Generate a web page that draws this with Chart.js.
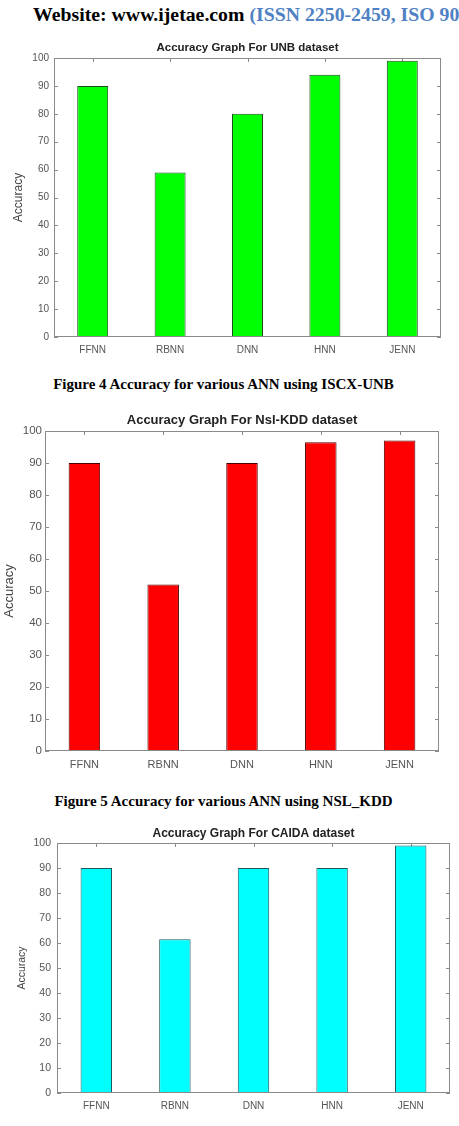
<!DOCTYPE html>
<html>
<head>
<meta charset="utf-8">
<script src="https://cdn.jsdelivr.net/npm/chart.js@4"></script>
<style>
  html, body { margin: 0; padding: 0; background: #fff; }
  body { width: 459px; height: 1126px; position: relative; overflow: hidden; }
  .txt { position: absolute; font-family: "Liberation Serif", "Times New Roman", serif; font-weight: bold; white-space: nowrap; color: #000; }
  canvas { position: absolute; left: 0; }
</style>
</head>
<body>
<div class="txt" id="header" style="left:33px; top:3px; font-size:19.8px;">Website: www.ijetae.com <span style="color:#4f81c4">(ISSN 2250-2459, ISO 9001:2008 Certified Journal</span></div>

<canvas id="unbChart" width="459" height="327" style="top:38px"></canvas>
<div class="txt" style="left:0; width:447px; text-align:center; top:376px; font-size:15px;">Figure 4 Accuracy for various ANN using ISCX-UNB</div>

<canvas id="kddChart" width="459" height="375" style="top:405px"></canvas>
<div class="txt" style="left:0; width:447px; text-align:center; top:793px; font-size:15px;">Figure 5 Accuracy for various ANN using NSL_KDD</div>

<canvas id="caidaChart" width="459" height="306" style="top:820px"></canvas>

<script>
// data
const categories = ["FFNN", "RBNN", "DNN", "HNN", "JENN"];
const unbAccuracy = [90, 59, 80, 94, 99];
const nslKddAccuracy = [90, 52, 90, 96.5, 97];
const caidaAccuracy = [90, 61.5, 90, 90, 99];
const yMin = 0;
const yMax = 100;
const yStep = 10;

// matlab style box: frame, inner ticks, title over the plot area
const boxPlugin = {
  id: "box",
  beforeDatasetsDraw(chart, args, opts) {
    const { ctx, chartArea: a, scales } = chart;
    const len = 4;
    ctx.save();
    ctx.strokeStyle = opts.color;
    ctx.lineWidth = 1;
    ctx.beginPath();
    scales.x.ticks.forEach((t, i) => {
      const px = Math.round(scales.x.getPixelForTick(i)) + 0.5;
      ctx.moveTo(px, a.top); ctx.lineTo(px, a.top + len);
      ctx.moveTo(px, a.bottom); ctx.lineTo(px, a.bottom - len);
    });
    scales.y.ticks.forEach((t) => {
      const py = Math.round(scales.y.getPixelForValue(t.value)) + 0.5;
      ctx.moveTo(a.left, py); ctx.lineTo(a.left + len, py);
      ctx.moveTo(a.right, py); ctx.lineTo(a.right - len, py);
    });
    ctx.stroke();
    ctx.restore();
  },
  afterDraw(chart, args, opts) {
    const { ctx, chartArea: a } = chart;
    ctx.save();
    ctx.strokeStyle = opts.color;
    ctx.lineWidth = 1;
    ctx.strokeRect(Math.round(a.left) + 0.5, Math.round(a.top) + 0.5,
      Math.round(a.right - a.left) - 1, Math.round(a.bottom - a.top) - 1);
    ctx.fillStyle = "#222";
    ctx.font = "bold " + opts.titleSize + "px 'Liberation Sans', Arial, sans-serif";
    ctx.textAlign = "center";
    ctx.textBaseline = "middle";
    ctx.fillText(opts.title, (a.left + a.right) / 2, opts.titleY);
    ctx.restore();
  },
};

function makeChart(id, values, fill, edge, s) {
  const font = { family: "'Liberation Sans', Arial, sans-serif", size: s.tick };
  return new Chart(document.getElementById(id), {
    type: "bar",
    data: {
      labels: categories,
      datasets: [
        {
          label: "Accuracy",
          data: values,
          backgroundColor: fill,
          borderColor: edge,
          borderWidth: 1,
          borderSkipped: false,
          categoryPercentage: 0.5,
          barPercentage: 0.8,
        },
      ],
    },
    options: {
      responsive: false,
      devicePixelRatio: 1,
      animation: false,
      layout: { padding: { top: s.top, right: s.right, left: 0, bottom: 0 } },
      plugins: {
        legend: { display: false },
        tooltip: { enabled: false },
        box: { color: "#8a8a8a", title: s.title, titleSize: s.titleSize, titleY: s.titleY },
      },
      scales: {
        x: {
          grid: { display: false, drawTicks: false },
          border: { display: false },
          ticks: { color: "#555", font: { ...font, size: s.xTick }, padding: s.xPad, maxRotation: 0 },
          afterFit: (sc) => { sc.height = s.xHeight; },
        },
        y: {
          min: yMin,
          max: yMax,
          grid: { display: false, drawTicks: false },
          border: { display: false },
          ticks: { stepSize: yStep, color: "#555", font, padding: s.yPad },
          title: {
            display: true,
            text: "Accuracy",
            color: "#444",
            font: { family: "'Liberation Sans', Arial, sans-serif", size: s.yTitle, lineHeight: 1 },
            padding: { top: s.yTitlePad, bottom: 0 },
          },
          afterFit: (sc) => { sc.width = s.yWidth; },
        },
      },
    },
    plugins: [boxPlugin],
  });
}

makeChart("unbChart", unbAccuracy, "#00ff00", "#1c4a1c", {
  top: 20, right: 18, yWidth: 54, xHeight: 28, tick: 10, xTick: 10, xPad: 7, yPad: 5,
  yTitle: 12, yTitlePad: 13, title: "Accuracy Graph For UNB dataset", titleSize: 11.5, titleY: 10,
});

makeChart("kddChart", nslKddAccuracy, "#ff0000", "#4a0000", {
  top: 26, right: 20, yWidth: 45, xHeight: 29, tick: 11.5, xTick: 11, xPad: 7, yPad: 3,
  yTitle: 13, yTitlePad: 2.5, title: "Accuracy Graph For Nsl-KDD dataset", titleSize: 13, titleY: 15,
});

makeChart("caidaChart", caidaAccuracy, "#00ffff", "#1f5a5a", {
  top: 23, right: 9, yWidth: 57, xHeight: 33, tick: 10.5, xTick: 10, xPad: 7, yPad: 6,
  yTitle: 10.5, yTitlePad: 17, title: "Accuracy Graph For CAIDA dataset", titleSize: 12, titleY: 14,
});
</script>
</body>
</html>
